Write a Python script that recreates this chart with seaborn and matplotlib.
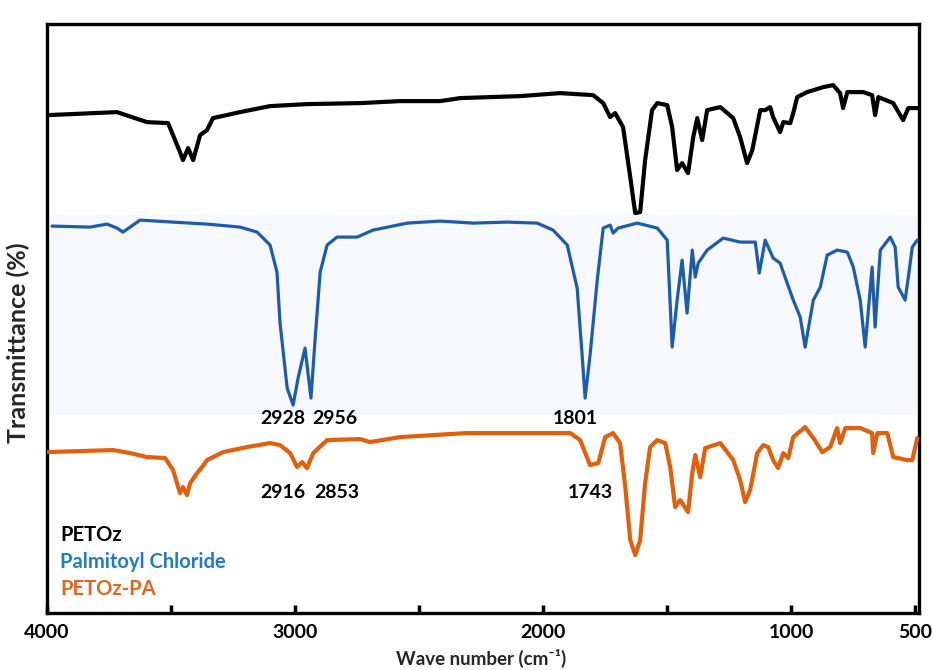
import numpy as np
import pandas as pd
import matplotlib
matplotlib.use('Agg')
import matplotlib.pyplot as plt
import seaborn as sns

# PETOz (black, top trace)
petoz_wn = [3996, 3718, 3597, 3512, 3464, 3452, 3431, 3411, 3383, 3355, 3331, 3222, 3101,
            2952, 2738, 2577, 2415, 2335, 2093, 1932, 1799, 1758, 1730, 1710, 1678, 1649,
            1629, 1609, 1589, 1561, 1540, 1500, 1480, 1460, 1440, 1416, 1395, 1379, 1359,
            1339, 1286, 1234, 1206, 1178, 1157, 1125, 1105, 1085, 1073, 1045, 1032, 1004,
            992, 976, 936, 871, 831, 803, 791, 774, 710, 674, 662, 649, 589, 549, 528, 488]
petoz_t = [99.6, 100.2, 98.2, 98.0, 92.2, 90.6, 93.0, 90.6, 95.6, 96.6, 99.0, 100.2, 101.4,
           101.8, 102.0, 102.4, 102.4, 103.0, 103.4, 104.0, 103.6, 102.0, 99.2, 100.0, 97.2, 87.2,
           80.0, 80.2, 90.6, 100.6, 102.0, 101.6, 97.2, 88.6, 90.0, 88.0, 95.2, 99.0, 94.6,
           100.6, 101.2, 99.0, 95.2, 90.0, 92.6, 100.6, 100.6, 101.2, 99.2, 96.2, 98.2, 98.0,
           100.0, 103.2, 104.2, 105.2, 105.6, 104.0, 101.0, 104.2, 104.2, 103.6, 99.6, 103.2,
           102.0, 98.6, 101.0, 101.0]

# Palmitoyl chloride (blue, middle trace)
pc_wn = [3980, 3827, 3758, 3718, 3694, 3665, 3625, 3492, 3355, 3222, 3153, 3101, 3073, 3061,
         3032, 3008, 2988, 2960, 2936, 2919, 2899, 2871, 2831, 2750, 2686, 2548, 2415, 2282,
         2145, 2024, 1960, 1903, 1863, 1843, 1831, 1811, 1782, 1758, 1730, 1718, 1698, 1621,
         1540, 1500, 1480, 1460, 1440, 1420, 1399, 1387, 1375, 1339, 1274, 1206, 1145, 1129,
         1105, 1073, 1045, 992, 964, 944, 911, 883, 855, 815, 774, 750, 722, 702, 674, 662,
         641, 601, 581, 569, 541, 528, 512, 492]
pc_t = [77.4, 77.2, 77.8, 77.0, 76.2, 77.2, 78.6, 78.2, 77.8, 77.2, 76.2, 73.6, 68.2, 58.2,
        45.0, 41.6, 47.0, 53.0, 43.0, 55.0, 68.2, 73.6, 75.2, 75.2, 76.6, 78.0, 78.4, 78.0,
        78.2, 78.0, 76.6, 73.6, 65.0, 51.6, 43.0, 51.6, 66.6, 77.0, 77.6, 76.0, 77.0, 78.0,
        77.0, 74.6, 53.2, 62.6, 70.6, 60.0, 72.6, 67.2, 70.0, 72.6, 75.0, 74.2, 74.2, 68.0,
        74.6, 71.0, 70.0, 62.6, 59.2, 53.2, 62.6, 65.2, 71.6, 72.6, 72.2, 69.2, 62.6, 53.2,
        69.2, 57.2, 72.6, 75.2, 73.2, 65.2, 62.6, 67.2, 73.2, 74.6]

# PETOz-PA (orange, bottom trace)
pa_wn = [3996, 3734, 3665, 3597, 3524, 3492, 3464, 3452, 3436, 3423, 3395, 3375, 3355, 3290,
         3194, 3101, 3061, 3020, 2992, 2972, 2952, 2927, 2871, 2738, 2698, 2577, 2307, 2012,
         1891, 1851, 1811, 1778, 1750, 1718, 1690, 1669, 1649, 1629, 1609, 1589, 1569, 1540,
         1508, 1488, 1468, 1448, 1416, 1399, 1387, 1367, 1347, 1286, 1234, 1206, 1186, 1166,
         1137, 1113, 1093, 1073, 1053, 1032, 1012, 992, 944, 911, 875, 843, 815, 803, 782,
         722, 674, 670, 653, 613, 589, 532, 512, 492]
pa_t = [32.2, 32.6, 32.0, 31.2, 31.0, 28.6, 24.0, 25.2, 23.6, 26.0, 28.0, 29.2, 30.6, 32.2,
        33.2, 34.0, 33.6, 32.0, 29.2, 30.2, 29.0, 32.0, 34.6, 34.8, 34.2, 35.2, 36.0, 36.0,
        36.0, 34.6, 29.6, 30.0, 35.2, 36.0, 34.0, 25.2, 14.6, 11.6, 14.6, 26.0, 33.2, 34.6,
        34.0, 29.2, 21.2, 22.6, 20.2, 28.0, 31.6, 27.2, 33.0, 34.0, 30.6, 26.6, 22.2, 24.6,
        32.0, 33.6, 33.2, 30.6, 29.0, 32.0, 31.0, 35.2, 37.2, 35.0, 32.2, 33.2, 37.0, 34.0,
        37.0, 37.0, 36.0, 32.0, 36.0, 36.0, 31.2, 30.6, 30.6, 35.0]

peak_labels = ['2928', '2956', '1801', '2916', '2853', '1743']
peak_wn = [3048, 2839, 1871, 3048, 2831, 1811]
peak_t = [39.0, 39.0, 39.0, 24.2, 24.2, 24.2]

names = ['PETOz', 'Palmitoyl Chloride', 'PETOz-PA']
line_colors = ['#000000', '#1c5cab', '#e2600c']
text_colors = ['#000000', '#1f7ccb', '#e8641c']

sns.set_theme(style='white')
plt.rcParams['font.family'] = ['Lato', 'DejaVu Sans']
plt.rcParams['font.weight'] = 'bold'

fig = plt.figure(figsize=(9.33, 6.7), dpi=100)
ax = fig.add_axes([0.0504, 0.085, 0.9346, 0.879])

# faint grey patch behind the middle spectrum (pasted image background)
ax.axhspan(39.6, 79.6, xmin=0.005, xmax=1.0, color='#f6f8fb', lw=0, zorder=0)

spectra = [(petoz_wn, petoz_t, 3.0), (pc_wn, pc_t, 2.3), (pa_wn, pa_t, 3.0)]
for (wn, t, lw), name, c in zip(spectra, names, line_colors):
    df = pd.DataFrame({'wn': wn, 't': t})
    sns.lineplot(data=df, x='wn', y='t', ax=ax, color=c, lw=lw, estimator=None,
                 sort=False, zorder=3)

for lab, x, y in zip(peak_labels, peak_wn, peak_t):
    ax.text(x, y, lab, ha='center', va='center', fontsize=14, fontweight='bold',
            color='black')

for i, (name, c) in enumerate(zip(names, text_colors)):
    ax.text(3948, 15.6 - i * 5.4, name, ha='left', va='center', fontsize=14.5,
            fontweight='bold', color=c)

ax.set_xlim(4000, 485)
ax.set_ylim(0, 117.8)
ax.set_xticks([4000, 3500, 3000, 2500, 2000, 1500, 1000, 500])
ax.set_xticklabels(['4000', '', '3000', '', '2000', '', '1000', '500'])
ax.set_yticks([])
ax.tick_params(axis='x', direction='in', length=6, width=2.5, pad=8, labelsize=14,
               bottom=True, top=False, colors='black')
for lab in ax.get_xticklabels():
    lab.set_fontweight('bold')
for s in ax.spines.values():
    s.set_visible(True)
    s.set_color('black')
    s.set_linewidth(2.4)
ax.set_xlabel('')
ax.set_ylabel('')

fig.text(18 / 933, 1 - 343 / 670, 'Transmittance (%)', rotation=90, ha='center',
         va='center', fontsize=18, fontweight='bold')
fig.text(481 / 933, 1 - 658 / 670, 'Wave number (cm\u207b\u00b9)', ha='center',
         va='center', fontsize=13.5, fontweight='bold')

fig.savefig('out.png', dpi=100)
